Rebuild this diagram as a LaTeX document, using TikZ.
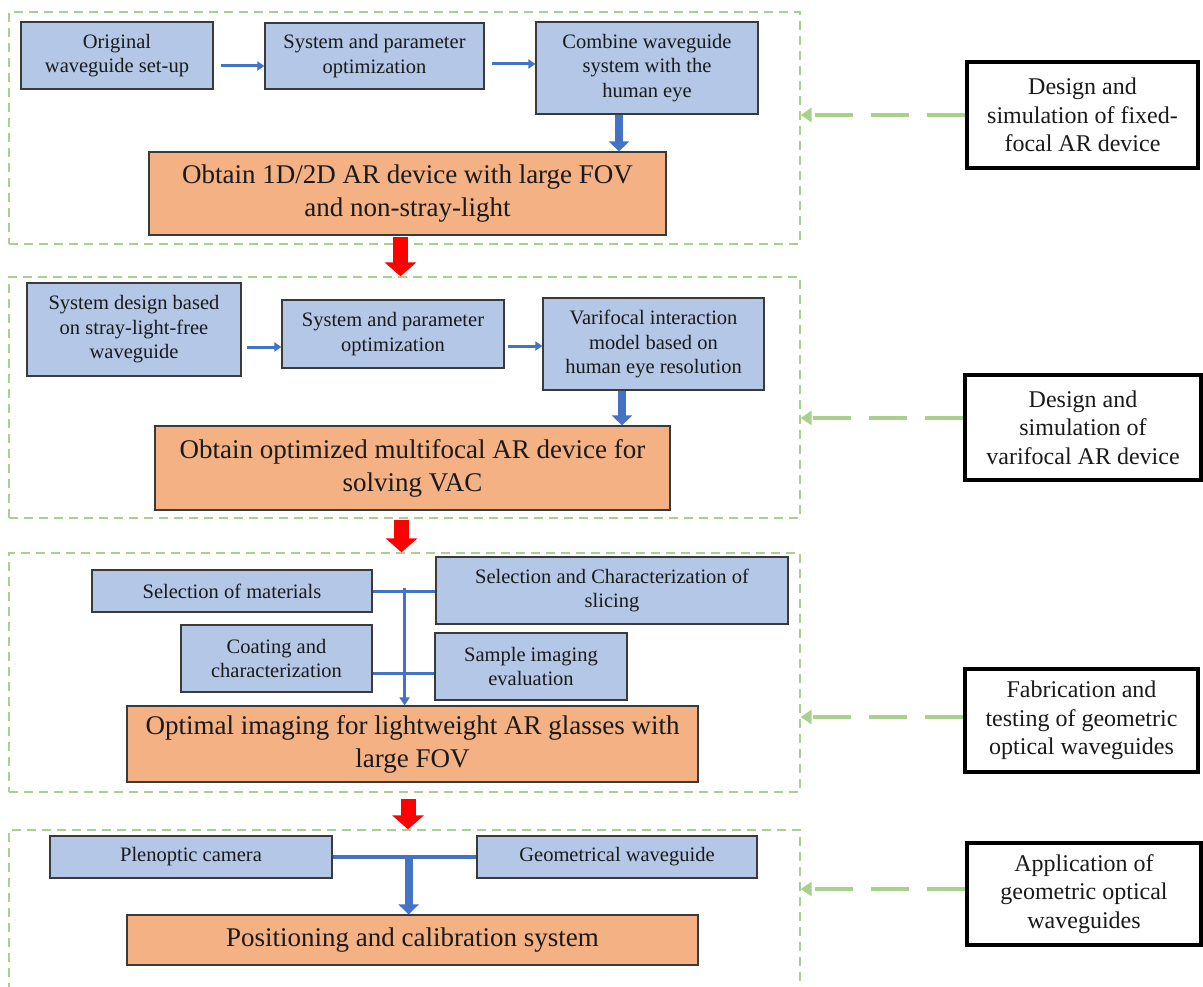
\documentclass[tikz,border=0pt]{standalone}
\usepackage{fontspec}
\setmainfont{Liberation Serif}
\newfontfamily\timesface{Liberation Serif}
\usetikzlibrary{arrows.meta,calc}
\definecolor{boxblue}{HTML}{B4C7E7}
\definecolor{boxorange}{HTML}{F4B183}
\definecolor{lineblue}{HTML}{4472C4}
\definecolor{framegreen}{HTML}{A9D18E}
\definecolor{edgegray}{HTML}{3A3A3A}
\definecolor{inktext}{HTML}{1A1A1A}

\begin{document}
\begin{tikzpicture}[x=1pt,y=-1pt,
  sz/.style 2 args={minimum width=#1pt, minimum height=#2pt},
  stepbox/.style={draw=edgegray, line width=1.2pt, fill=boxblue, align=center,
    inner sep=0pt, text=inktext, font=\timesface\fontsize{20.5}{24.5}\selectfont},
  resultbox/.style={draw=edgegray, line width=1.2pt, fill=boxorange, align=center,
    inner sep=0pt, text=inktext, font=\timesface\fontsize{27}{33}\selectfont},
  stagebox/.style={draw=black, line width=3.5pt, fill=white, align=center,
    inner sep=0pt, text=inktext, font=\timesface\fontsize{24}{28.5}\selectfont},
  frame/.style={draw=framegreen, line width=1.3pt, dash pattern=on 9pt off 6pt, inner sep=0pt},
  flow/.style={draw=lineblue, line width=3pt, -{Triangle[width=9pt,length=7pt]}},
  drop/.style={draw=lineblue, line width=8pt, -{Triangle[width=20pt,length=10pt]}},
  feed/.style={draw=lineblue, line width=3pt, -{Triangle[width=10pt,length=8pt]}},
  joint/.style={draw=lineblue, line width=3pt},
  nextstage/.style={draw=red, line width=15pt, -{Triangle[width=31pt,length=14pt]}},
  cue/.style={draw=framegreen, line width=4pt, dash pattern=on 38pt off 18pt,
    -{Triangle[width=14pt,length=11pt]}}
]
\useasboundingbox (0,0) rectangle (1203,987);
\clip (0,0) rectangle (1203,987);

% dashed stage frames
\node[frame, sz={791}{232}] (f1) at (404.5,128) {};
\node[frame, sz={791}{241}] (f2) at (404.5,397.5) {};
\node[frame, sz={791}{239}] (f3) at (404.5,672.5) {};
\node[frame, sz={791}{170}] (f4) at (404.5,915) {};

% stage 1: fixed-focal design
\node[stepbox, sz={192}{67}] (o1) at (117,55.5) {Original\\waveguide set-up};
\node[stepbox, sz={219}{66}] (o2) at (374.5,56) {System and parameter\\optimization};
\node[stepbox, sz={222}{92}] (o3) at (647,68) {Combine waveguide\\system with the\\human eye};
\node[resultbox, sz={517}{83}] (r1) at (407.5,193.5) {Obtain 1D/2D AR device with large FOV\\and non-stray-light};

\coordinate (a1) at ([shift={(7,10.5)}]o1.east);
\draw[flow] (a1) -- (a1 -| o2.west);
\coordinate (a2) at ([shift={(7,8)}]o2.east);
\draw[flow] (a2) -- (a2 -| o3.west);
\coordinate (a3) at ([xshift=-28pt]o3.south);
\draw[drop] (a3) -- (a3 |- r1.north);

% stage 2: varifocal design
\node[stepbox, sz={214}{93}] (p1) at (134,329.5) {System design based\\on stray-light-free\\waveguide};
\node[stepbox, sz={222}{68}] (p2) at (393,334) {System and parameter\\optimization};
\node[stepbox, sz={221}{92}] (p3) at (653.5,344) {Varifocal interaction\\model based on\\human eye resolution};
\node[resultbox, sz={515}{84}] (r2) at (412.5,468) {Obtain optimized multifocal AR device for\\solving VAC};

\coordinate (b1) at ([shift={(5,17.5)}]p1.east);
\draw[flow] (b1) -- (b1 -| p2.west);
\coordinate (b2) at ([shift={(3,12)}]p2.east);
\draw[flow] (b2) -- (b2 -| p3.west);
\coordinate (b3) at ([xshift=-31.5pt]p3.south);
\draw[drop] (b3) -- (b3 |- r2.north);

% stage 3: fabrication and testing
\node[stepbox, sz={280}{42}] (q1) at (232,591) {Selection of materials};
\node[stepbox, sz={352}{67}] (q2) at (612,590.5) {Selection and Characterization of\\slicing};
\node[stepbox, sz={191}{67}] (q3) at (276.5,658.5) {Coating and\\characterization};
\node[stepbox, sz={192}{67}] (q4) at (531,666.5) {Sample imaging\\evaluation};
\node[resultbox, sz={571}{76}] (r3) at (412.5,744) {Optimal imaging for lightweight AR glasses with\\large FOV};

\draw[joint] (q1.east) -- (q1.east -| q2.west);
\coordinate (c2) at ([shift={(0,14.5)}]q3.east);
\draw[joint] (c2) -- (c2 -| q4.west);
\coordinate (c1) at ([shift={(32,-3)}]q1.east);
\draw[feed] (c1) -- (c1 |- r3.north);

% stage 4: application
\node[stepbox, sz={282}{42}] (s1) at (191,857) {Plenoptic camera};
\node[stepbox, sz={280}{42}] (s2) at (617,857) {Geometrical waveguide};
\node[resultbox, sz={571}{50}] (r4) at (412.5,940) {Positioning and calibration system};

\draw[joint, line width=4pt] (s1.east) -- (s2.west);
\coordinate (e1) at ([xshift=76pt]s1.east);
\draw[drop] (e1) -- (e1 |- r4.north);

% hand-over between stages
\coordinate (h1) at ([shift={(-7,1.5)}]r1.south);
\draw[nextstage] (h1) -- (h1 |- f2.north);
\coordinate (h2) at ([shift={(-3,1)}]f2.south);
\draw[nextstage] (h2) -- (h2 |- f3.north);
\coordinate (h3) at ([shift={(3.5,6)}]f3.south);
\draw[nextstage] (h3) -- (h3 |- f4.north);

% stage labels
\node[stagebox, sz={231}{106}] (d1) at (1082.5,115) {Design and\\simulation of fixed-\\focal AR device};
\node[stagebox, sz={236}{105}] (d2) at (1083,427.5) {Design and\\simulation of\\varifocal AR device};
\node[stagebox, sz={233}{103}] (d3) at (1081.5,720.5) {Fabrication and\\testing of geometric\\optical waveguides};
\node[stagebox, sz={234}{102}] (d4) at (1084,894) {Application of\\geometric optical\\waveguides};

\coordinate (g1) at (d1.west);
\draw[cue] (g1) -- (g1 -| f1.east);
\coordinate (g2) at ([yshift=9.5pt]d2.west);
\draw[cue] (g2) -- (g2 -| f2.east);
\coordinate (g3) at ([yshift=3.5pt]d3.west);
\draw[cue] (g3) -- (g3 -| f3.east);
\coordinate (g4) at ([yshift=5pt]d4.west);
\draw[cue] (g4) -- (g4 -| f4.east);
\end{tikzpicture}
\end{document}
